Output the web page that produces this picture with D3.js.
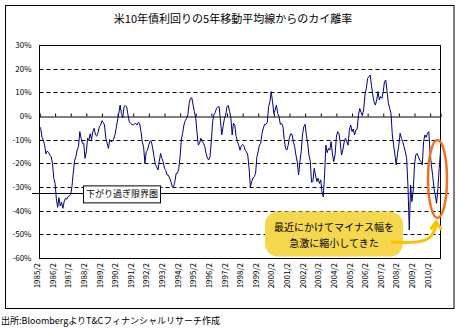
<!DOCTYPE html>
<html lang="ja">
<head>
  <meta charset="UTF-8" />
  <title>米10年債利回りの5年移動平均線からのカイ離率</title>
  <script src="https://d3js.org/d3.v7.min.js"></script>
  <style>
    body { margin: 0; background: #fff; }
    text { font-family: "Noto Sans CJK JP", sans-serif; fill: #000; }
  </style>
</head>
<body>
  <svg id="chart" width="461" height="332"></svg>

  <script>
    // monthly deviation (%) starting 1985/2
    const startMonth = "1985/2";
    const deviation = [
      -4.5, -5.2, -9, -10.1, -12.3, -16, -14.8, -15.4, -16.5, -17.2, -20, -26.3,
      -28.5, -34.8, -38.6, -34.5, -38, -36.5, -39, -36.2, -34.8, -35.1, -34.1, -33.7,
      -33.1, -29.9, -24, -19, -17.2, -14.4, -13, -6.6, -9.4, -11.5, -11.5, -17.9,
      -15.1, -9.4, -10.1, -7.5, -10, -6.6, -5.2, -8, -8.5, -7, -4.5, -3.8,
      -2, -2.7, -3.8, -9.4, -11.5, -13.7, -10, -10.8, -10.6, -9.8, -8, -5,
      -1.5, 1.1, 4.6, 1, -0.7, 3.9, 4.4, 3.8, 0.5, -2.5, -3.1, -3.5,
      -3.8, -3.4, -3.1, -3.8, -2.7, -3.1, -6.6, -11, -13, -20, -15.1, -14.4,
      -12, -10.6, -10.8, -13.7, -17.2, -20.5, -21.5, -22.8, -19.3, -15.8, -17.9, -19.3,
      -22.1, -23, -24.9, -25, -26.3, -27.7, -29.9, -29.9, -27.7, -24.2, -24.2, -22.1,
      -17, -10.1, -7.3, -3.8, -2, -1, 0.5, 5.4, 7.5, 7.7, 4.6, 1.8,
      -1, -6.6, -12.3, -11.5, -9.4, -10.8, -11.5, -13, -15.8, -17.9, -18.6, -17.2,
      -10.5, -2.4, 0.6, 1.5, 3.2, 3.9, 3.9, -2, -8, -4.5, -1.2, 0.4,
      3.9, 4.5, 2, -0.5, -8, -3.1, -3.8, -8.5, -10.8, -12.3, -14.4, -12.8,
      -12, -12.5, -14.4, -15.1, -16.5, -22, -29.9, -27.7, -26.3, -25.6, -24.2, -17.2,
      -14.8, -12.3, -11.5, -7.3, -5, -3.5, -3.5, -2.7, 4, 6, 10.3, 6,
      1, 2.5, 4.6, 1, -0.3, -3.5, -3.1, -4.5, -10, -13.7, -14.4, -12.3,
      -9, -7.5, -7.8, -10.8, -13, -16.5, -19.5, -24.9, -19.3, -15.1, -8, -4.5,
      -3.5, -8, -11.5, -16.5, -19.3, -28, -27.7, -22.1, -25, -27.7, -26.3, -28.5,
      -27, -32, -34.1, -25, -12.3, -15.5, -13.7, -14.4, -10.8, -16, -19.3, -16.5,
      -9, -6.6, -7.3, -11, -16.5, -14.4, -11, -9.4, -10.8, -12.3, -6, -3.8,
      -6.6, -5.5, -8, -5.9, -5.5, 0.4, 3.2, 1.5, 0.1, 3, 8.9, 11.7,
      15.9, 16.6, 17.3, 13, 8.9, 6, 4.6, 6.8, 10.3, 6.8, 8.2, 7.5,
      10.3, 14.5, 15.2, 10.3, 5.4, 3.2, 1.1, -8, -12.3, -16.5, -20.7, -15.8,
      -12.3, -7.3, -9.4, -10.8, -13, -15.1, -17.9, -30, -48.2, -29.2, -36.2, -31.3,
      -20.7, -16.5, -15.8, -17.2, -18.6, -19.3, -20.7, -10.8, -8, -9, -7.3, -6.6,
      -15.8, -20.7, -25, -30.6, -33.4, -36.9, -30.6, -22.1, -15.1
    ];
    const yTicks = [30, 20, 10, 0, -10, -20, -30, -40, -50, -60];
    const xTickLabels = [
      "1985/2", "1986/2", "1987/2", "1988/2", "1989/2", "1990/2", "1991/2",
      "1992/2", "1993/2", "1994/2", "1995/2", "1996/2", "1997/2", "1998/2",
      "1999/2", "2000/2", "2001/2", "2002/2", "2003/2", "2004/2", "2005/2",
      "2006/2", "2007/2", "2008/2", "2009/2", "2010/2"
    ];
    const limitLevel = -32.7;
    const limitLabel = "下がり過ぎ限界圏";
    const titleText = "米10年債利回りの5年移動平均線からのカイ離率";
    const noteLines = ["最近にかけてマイナス幅を", "急激に縮小してきた"];
    const sourceText = "出所:BloombergよりT&Cフィナンシャルリサーチ作成";

    const svg = d3.select("#chart");
    const parseMonth = d3.timeParse("%Y/%m");
    const start = parseMonth(startMonth);
    const series = deviation.map((v, i) => ({ date: d3.timeMonth.offset(start, i), value: v }));

    const plotL = 39.5, plotR = 440.5, plotT = 45, plotB = 258;

    const x = d3.scaleTime()
      .domain([start, series[series.length - 1].date])
      .range([plotL, plotR]);
    const y = d3.scaleLinear().domain([-60, 30]).range([plotB, plotT]);

    // outer frame
    svg.append("rect")
      .attr("x", 5.5).attr("y", 5.5)
      .attr("width", 448.5).attr("height", 303)
      .attr("fill", "#fff").attr("stroke", "#000");

    svg.append("text")
      .attr("x", 233).attr("y", 23)
      .attr("text-anchor", "middle")
      .attr("font-size", 11)
      .text(titleText);

    // dashed gridlines
    svg.append("g").selectAll("line")
      .data(yTicks.filter(d => d !== 0 && d !== 30 && d !== -60))
      .join("line")
      .attr("x1", plotL).attr("x2", plotR)
      .attr("y1", d => Math.round(y(d)) + 0.5).attr("y2", d => Math.round(y(d)) + 0.5)
      .attr("stroke", "#000")
      .attr("stroke-dasharray", "4,3");

    // plot border
    svg.append("rect")
      .attr("x", plotL).attr("y", plotT + 0.5)
      .attr("width", plotR - plotL).attr("height", plotB - plotT)
      .attr("fill", "none").attr("stroke", "#000");

    // y axis labels
    const yAxis = svg.append("g")
      .attr("transform", `translate(${plotL},0)`)
      .call(d3.axisLeft(y).tickValues(yTicks).tickSize(0).tickPadding(8)
        .tickFormat(d => d + "%"));
    yAxis.select(".domain").remove();
    yAxis.selectAll("text")
      .attr("font-family", "'Noto Sans CJK JP', sans-serif")
      .attr("font-size", 8);

    // zero line with year ticks
    const yearTicks = xTickLabels.map(parseMonth);
    const zeroAxis = svg.append("g")
      .attr("transform", `translate(0,${Math.round(y(0)) + 0.5})`)
      .call(d3.axisTop(x).tickValues(yearTicks).tickSize(3).tickFormat(""));
    zeroAxis.select(".domain").attr("stroke", "#000");
    zeroAxis.selectAll(".tick line").attr("stroke", "#000");

    // x labels under plot
    const xAxis = svg.append("g")
      .attr("transform", `translate(0,${plotB})`)
      .call(d3.axisBottom(x).tickValues(yearTicks).tickSize(0)
        .tickFormat(d3.timeFormat("%Y/%-m")));
    xAxis.select(".domain").remove();
    xAxis.selectAll("text")
      .attr("font-family", "'Noto Sans CJK JP', sans-serif")
      .attr("font-size", 8)
      .attr("text-anchor", "end")
      .attr("dy", 0)
      .attr("transform", "translate(0,5) rotate(-90)")
      .attr("x", 0).attr("y", 0);

    // limit line
    svg.append("line")
      .attr("x1", 32).attr("x2", 449)
      .attr("y1", Math.round(y(limitLevel)) + 0.5).attr("y2", Math.round(y(limitLevel)) + 0.5)
      .attr("stroke", "#000");

    // data line
    svg.append("path")
      .datum(series)
      .attr("fill", "none")
      .attr("stroke", "#000080")
      .attr("stroke-width", 1)
      .attr("d", d3.line().x(d => x(d.date)).y(d => y(d.value)));

    // limit label box
    const boxY = y(limitLevel);
    svg.append("rect")
      .attr("x", 83.5).attr("y", boxY - 7.5)
      .attr("width", 77).attr("height", 17)
      .attr("fill", "#fff").attr("stroke", "#000");
    svg.append("text")
      .attr("x", 122).attr("y", boxY + 4)
      .attr("text-anchor", "middle")
      .attr("font-size", 9)
      .text(limitLabel);

    // callout
    svg.append("rect")
      .attr("x", 265).attr("y", 211.5)
      .attr("width", 138).attr("height", 45)
      .attr("rx", 13).attr("ry", 13)
      .attr("fill", "#f5d74e");
    svg.append("g").selectAll("text")
      .data(noteLines)
      .join("text")
      .attr("x", 334).attr("y", (d, i) => 231 + i * 16)
      .attr("text-anchor", "middle")
      .attr("font-size", 10)
      .text(d => d);

    // arrow
    svg.append("path")
      .attr("d", "M391,242 C410,243 424,243 430,237 C435,232 436,228 436,222")
      .attr("fill", "none").attr("stroke", "#ffc000").attr("stroke-width", 3);
    svg.append("path")
      .attr("d", "M430.5,229.5 L436,222 L441.5,229.5")
      .attr("fill", "none").attr("stroke", "#ffc000").attr("stroke-width", 3)
      .attr("stroke-linejoin", "miter");

    // highlight ellipse
    svg.append("ellipse")
      .attr("cx", 437.5).attr("cy", 179)
      .attr("rx", 9.5).attr("ry", 39)
      .attr("fill", "none").attr("stroke", "#f07022").attr("stroke-width", 2.5);

    svg.append("text")
      .attr("x", 1).attr("y", 324)
      .attr("font-size", 9)
      .text(sourceText);
  </script>
</body>
</html>
